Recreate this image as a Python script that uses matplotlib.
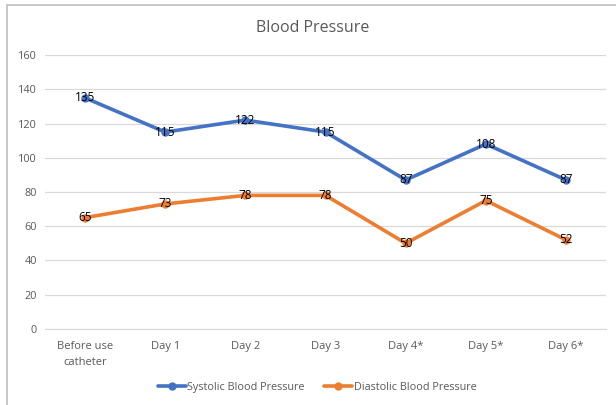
import matplotlib.pyplot as plt
from matplotlib.patches import Rectangle

categories = ["Before use\ncatheter", "Day 1", "Day 2", "Day 3", "Day 4*", "Day 5*", "Day 6*"]
systolic = [135, 115, 122, 115, 87, 108, 87]
diastolic = [65, 73, 78, 78, 50, 75, 52]
y_ticks = [0, 20, 40, 60, 80, 100, 120, 140, 160]

FONT = "Open Sans"
TEXT_GREY = "#595959"

fig = plt.figure(figsize=(6.16, 4.05), dpi=100)
ax = fig.add_axes([0.073, 0.188, 0.911, 0.676])

x = list(range(len(categories)))
ax.plot(x, systolic, color="#4472c4", linewidth=2.6, marker="o", markersize=5,
        label="Systolic Blood Pressure", solid_capstyle="round")
ax.plot(x, diastolic, color="#ed7d31", linewidth=2.6, marker="o", markersize=5,
        label="Diastolic Blood Pressure", solid_capstyle="round")

# data labels centred on points
for xi, v in zip(x, systolic):
    ax.text(xi, v, str(v), ha="center", va="center", fontsize=8.5, color="black", family=FONT)
for xi, v in zip(x, diastolic):
    ax.text(xi, v, str(v), ha="center", va="center", fontsize=8.5, color="black", family=FONT)

ax.set_xlim(-0.5, len(categories) - 0.5)
ax.set_ylim(0, 160)
ax.set_yticks(y_ticks)
ax.set_yticklabels([str(t) for t in y_ticks], family=FONT, fontsize=7.8, color=TEXT_GREY)
ax.set_xticks(x)
ax.set_xticklabels(categories, family=FONT, fontsize=8, color=TEXT_GREY, linespacing=1.55)
ax.tick_params(length=0)
ax.tick_params(axis="x", pad=9)
ax.tick_params(axis="y", pad=6)
ax.grid(axis="y", color="#d9d9d9", linewidth=0.9)
ax.set_axisbelow(True)
for s in ["top", "right", "left"]:
    ax.spines[s].set_visible(False)
ax.spines["bottom"].set_color("#d9d9d9")

fig.text(0.508, 0.931, "Blood Pressure", ha="center", va="center",
         fontsize=11.5, color=TEXT_GREY, family=FONT)

leg = ax.legend(loc="center", bbox_to_anchor=(0.485, -0.215), ncol=2, frameon=False,
                prop={"family": FONT, "size": 7.8}, handlelength=2.6, columnspacing=1.8,
                handletextpad=0.1)
for t in leg.get_texts():
    t.set_color(TEXT_GREY)

fig.patches.append(Rectangle((7 / 616, -0.05), 1.0, 1 - 5 / 405 + 0.05,
                             transform=fig.transFigure, fill=False,
                             edgecolor="#bfbfbf", linewidth=1.2))

fig.savefig("out.png", dpi=100)
